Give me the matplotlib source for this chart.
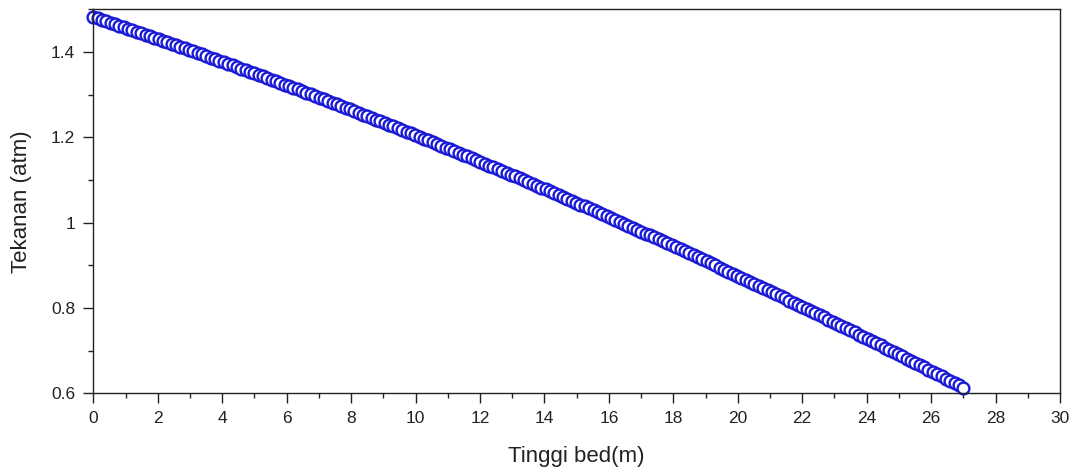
import numpy as np
import matplotlib
matplotlib.use('Agg')
import matplotlib.pyplot as plt
from matplotlib.ticker import MultipleLocator

plt.rcParams['font.family'] = ['Liberation Sans', 'DejaVu Sans']

# tinggi bed dari 0 sampai 27 m, 201 titik (grid seragam)
tinggi_awal = 0.0
tinggi_akhir = 27.0

# tekanan (atm)
tekanan = [
    1.4820, 1.4786, 1.4751, 1.4717, 1.4682, 1.4648, 1.4614, 1.4579, 1.4545, 1.4510,
    1.4476, 1.4441, 1.4405, 1.4370, 1.4334, 1.4299, 1.4264, 1.4228, 1.4193, 1.4157,
    1.4122, 1.4086, 1.4049, 1.4013, 1.3977, 1.3941, 1.3904, 1.3868, 1.3832, 1.3795,
    1.3759, 1.3722, 1.3685, 1.3647, 1.3610, 1.3573, 1.3536, 1.3499, 1.3461, 1.3424,
    1.3387, 1.3349, 1.3311, 1.3272, 1.3234, 1.3196, 1.3158, 1.3120, 1.3081, 1.3043,
    1.3005, 1.2966, 1.2927, 1.2887, 1.2848, 1.2809, 1.2770, 1.2731, 1.2691, 1.2652,
    1.2613, 1.2573, 1.2533, 1.2493, 1.2453, 1.2413, 1.2372, 1.2332, 1.2292, 1.2252,
    1.2212, 1.2171, 1.2130, 1.2089, 1.2048, 1.2007, 1.1965, 1.1924, 1.1883, 1.1842,
    1.1801, 1.1759, 1.1717, 1.1675, 1.1633, 1.1591, 1.1549, 1.1507, 1.1465, 1.1423,
    1.1381, 1.1338, 1.1295, 1.1252, 1.1209, 1.1167, 1.1124, 1.1081, 1.1038, 1.0995,
    1.0952, 1.0908, 1.0864, 1.0820, 1.0776, 1.0733, 1.0689, 1.0645, 1.0601, 1.0557,
    1.0513, 1.0468, 1.0423, 1.0378, 1.0333, 1.0289, 1.0244, 1.0199, 1.0154, 1.0109,
    1.0064, 1.0018, 0.9972, 0.9927, 0.9881, 0.9835, 0.9789, 0.9743, 0.9698, 0.9652,
    0.9606, 0.9559, 0.9512, 0.9466, 0.9419, 0.9372, 0.9325, 0.9278, 0.9232, 0.9185,
    0.9138, 0.9090, 0.9043, 0.8995, 0.8947, 0.8900, 0.8852, 0.8804, 0.8756, 0.8709,
    0.8661, 0.8612, 0.8564, 0.8515, 0.8466, 0.8418, 0.8369, 0.8320, 0.8271, 0.8223,
    0.8174, 0.8124, 0.8075, 0.8025, 0.7976, 0.7926, 0.7876, 0.7827, 0.7777, 0.7728,
    0.7678, 0.7627, 0.7577, 0.7526, 0.7476, 0.7425, 0.7374, 0.7324, 0.7273, 0.7223,
    0.7172, 0.7121, 0.7069, 0.7018, 0.6966, 0.6915, 0.6863, 0.6812, 0.6760, 0.6709,
    0.6657, 0.6605, 0.6552, 0.6500, 0.6447, 0.6395, 0.6342, 0.6290, 0.6237, 0.6185,
    0.6132,
]
tinggi = np.linspace(tinggi_awal, tinggi_akhir, len(tekanan))

fig = plt.figure(figsize=(10.75, 4.68), dpi=100)
ax = fig.add_axes([0.0868, 0.1596, 0.8992, 0.8207])

ax.plot(tinggi, tekanan, linestyle='none', marker='o', markersize=8.5,
        markerfacecolor='white', markeredgecolor='#1a1ad6', markeredgewidth=1.7,
        clip_on=False)

ax.set_xlim(0, 30)
ax.set_ylim(0.6, 1.5)
ax.xaxis.set_major_locator(MultipleLocator(2))
ax.xaxis.set_minor_locator(MultipleLocator(1))
ax.yaxis.set_minor_locator(MultipleLocator(0.1))
ax.set_yticks([0.6, 0.8, 1.0, 1.2, 1.4])
ax.set_yticklabels(['0.6', '0.8', '1', '1.2', '1.4'])

ax.tick_params(which='both', direction='out', top=False, right=False,
               colors='#222222', labelsize=12.5, width=1.0)
ax.tick_params(which='major', length=7, pad=6)
ax.tick_params(which='minor', length=3.5)
for s in ax.spines.values():
    s.set_linewidth(1.0)
    s.set_color('#222222')

ax.set_xlabel('Tinggi bed(m)', fontsize=16, color='#222222', labelpad=14)
ax.set_ylabel('Tekanan (atm)', fontsize=16, color='#222222', labelpad=14)

plt.savefig('out.png', dpi=100)
